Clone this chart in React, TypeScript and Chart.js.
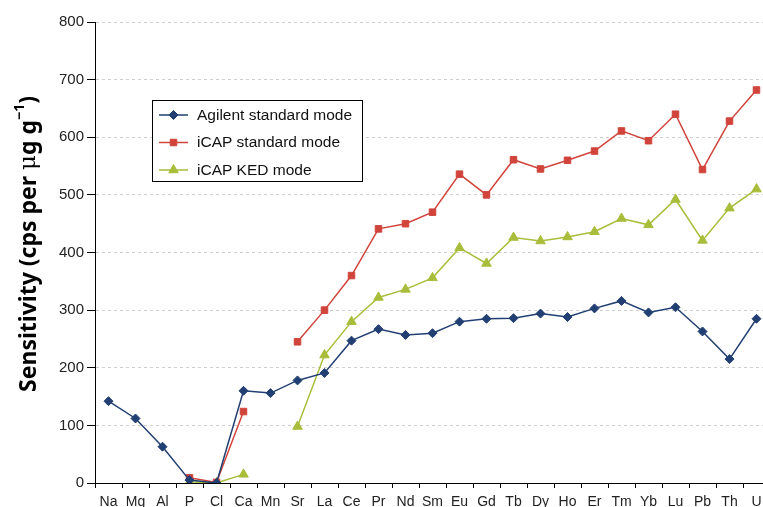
import React, { useEffect, useRef } from "react";
import { Chart, registerables } from "chart.js";
Chart.register(...registerables);

const elements = ["Na", "Mg", "Al", "P", "Cl", "Ca", "Mn", "Sr", "La", "Ce", "Pr", "Nd", "Sm", "Eu", "Gd", "Tb", "Dy", "Ho", "Er", "Tm", "Yb", "Lu", "Pb", "Th", "U"];
const agilentStandard = [142, 112, 63, 5, 0, 160, 156, 178, 191, 247, 267, 257, 260, 280, 285, 286, 294, 288, 303, 316, 296, 305, 263, 215, 285];
const icapStandard = [null, null, null, 9, 1, 124, null, 245, 300, 360, 441, 450, 470, 536, 500, 561, 545, 560, 576, 611, 594, 640, 544, 628, 682];
const icapKed = [null, null, null, 2, 0, 15, null, 98, 222, 280, 322, 336, 356, 408, 381, 426, 420, 427, 436, 459, 448, 492, 421, 477, 510];
const seriesNames = ["Agilent standard mode", "iCAP standard mode", "iCAP KED mode"];
const yMin = 0;
const yMax = 800;
const yStep = 100;

const BLUE = "#213F72";
const RED = "#D0443B";
const GREEN = "#A9BD3B";

function drawMarker(ctx: CanvasRenderingContext2D, style: string, x: number, y: number, r: number, color: string) {
  ctx.save();
  ctx.fillStyle = color;
  ctx.strokeStyle = color;
  ctx.lineWidth = 1;
  ctx.beginPath();
  if (style === "rectRot") {
    ctx.moveTo(x, y - r);
    ctx.lineTo(x + r, y);
    ctx.lineTo(x, y + r);
    ctx.lineTo(x - r, y);
  } else if (style === "rect") {
    const s = r * Math.SQRT1_2;
    ctx.rect(x - s, y - s, 2 * s, 2 * s);
  } else {
    const w = (r * Math.sqrt(3)) / 2;
    ctx.moveTo(x, y - r);
    ctx.lineTo(x + w, y + r / 2);
    ctx.lineTo(x - w, y + r / 2);
  }
  ctx.closePath();
  ctx.fill();
  ctx.stroke();
  ctx.restore();
}

const legendPlugin = {
  id: "boxLegend",
  afterDatasetsDraw(chart: any) {
    const ctx: CanvasRenderingContext2D = chart.ctx;
    ctx.save();
    const x0 = 152.5, y0 = 100.5, w = 210, h = 81;
    ctx.fillStyle = "#fff";
    ctx.fillRect(x0, y0, w, h);
    ctx.strokeStyle = "#000";
    ctx.lineWidth = 1;
    ctx.strokeRect(x0, y0, w, h);
    const rows = [115, 142.5, 170];
    chart.data.datasets.forEach((ds: any, i: number) => {
      const y = rows[i];
      ctx.strokeStyle = ds.borderColor;
      ctx.lineWidth = 1.5;
      ctx.beginPath();
      ctx.moveTo(159, y);
      ctx.lineTo(188, y);
      ctx.stroke();
      drawMarker(ctx, ds.pointStyle, 173.5, y, ds.pointRadius, ds.borderColor);
      ctx.fillStyle = "#111";
      ctx.font = '15.5px "Liberation Sans", Arial, sans-serif';
      ctx.textAlign = "left";
      ctx.textBaseline = "middle";
      ctx.fillText(ds.label, 197, y + 0.5);
    });
    ctx.restore();
  },
};

const titlePlugin = {
  id: "yTitle",
  afterDraw(chart: any) {
    const ctx: CanvasRenderingContext2D = chart.ctx;
    ctx.save();
    ctx.translate(29, 244);
    ctx.rotate(-Math.PI / 2);
    const big = 'bold 23px "Noto Sans", "DejaVu Sans", sans-serif';
    const small = 'bold 14px "Noto Sans", "DejaVu Sans", sans-serif';
    const parts: [string, string, number][] = [
      ["Sensitivity (cps per ", big, 0],
      ["\u03bc", '23px "DejaVu Serif", serif', 0],
      ["g g", big, 0],
      ["\u22121", small, -9],
      [")", big, 0],
    ];
    let total = 0;
    for (const [t, f] of parts) {
      ctx.font = f;
      total += ctx.measureText(t).width;
    }
    let x = -total / 2;
    ctx.fillStyle = "#000";
    ctx.textBaseline = "middle";
    ctx.textAlign = "left";
    for (const [t, f, dy] of parts) {
      ctx.font = f;
      ctx.fillText(t, x, dy);
      x += ctx.measureText(t).width;
    }
    ctx.restore();
  },
};

export default function App() {
  const ref = useRef<HTMLCanvasElement>(null);
  useEffect(() => {
    if (!ref.current) return;
    const xFont = { family: '"Liberation Sans", Arial, sans-serif', size: 14 };
    const yFont = { family: '"Liberation Sans", Arial, sans-serif', size: 15 };
    const yTicks: number[] = [];
    for (let v = yMin; v <= yMax; v += yStep) yTicks.push(v);
    const chart = new Chart(ref.current, {
      type: "line",
      data: {
        labels: elements,
        datasets: [
          {
            label: seriesNames[0],
            data: agilentStandard,
            borderColor: BLUE,
            backgroundColor: BLUE,
            borderWidth: 1.5,
            pointStyle: "rectRot",
            pointRadius: 4.5,
            pointBorderWidth: 1,
            spanGaps: false,
          },
          {
            label: seriesNames[1],
            data: icapStandard,
            borderColor: RED,
            backgroundColor: RED,
            borderWidth: 1.5,
            pointStyle: "rect",
            pointRadius: 4.6,
            pointBorderWidth: 1,
            spanGaps: false,
          },
          {
            label: seriesNames[2],
            data: icapKed,
            borderColor: GREEN,
            backgroundColor: GREEN,
            borderWidth: 1.5,
            pointStyle: "triangle",
            pointRadius: 5.5,
            pointBorderWidth: 1,
            spanGaps: false,
          },
        ] as any,
      },
      options: {
        animation: false,
        responsive: false,
        maintainAspectRatio: false,
        layout: { padding: { top: 22, right: 20, bottom: 0, left: 0 } },
        plugins: { legend: { display: false }, tooltip: { enabled: false } },
        scales: {
          x: {
            type: "category",
            offset: true,
            grid: { display: true, drawOnChartArea: false, drawTicks: true, tickLength: 5, offset: true, color: "#000", tickColor: "#000" },
            border: { display: true, color: "#000", width: 1 },
            ticks: { color: "#222", font: xFont, padding: 6, autoSkip: false, maxRotation: 0 },
            afterFit: (s: any) => { s.height = 24; },
          },
          y: {
            min: yMin,
            max: yMax,
            afterBuildTicks: (s: any) => { s.ticks = yTicks.map((v) => ({ value: v })); },
            grid: { display: true, color: "#cfcfcf", tickColor: "#000", tickLength: 8, drawTicks: true, tickBorderDash: [] },
            border: { display: true, color: "#000", width: 1, dash: [3, 3] },
            ticks: { color: "#222", font: yFont, padding: 3 },
            afterFit: (s: any) => { s.width = 95; },
          },
        },
      },
      plugins: [legendPlugin, titlePlugin],
    });
    return () => chart.destroy();
  }, []);
  return (
    <div style={{ position: "fixed", left: 0, top: 0, width: 763, height: 507, overflow: "hidden", background: "#fff" }}>
      <canvas ref={ref} width={790} height={507} style={{ display: "block" }} />
    </div>
  );
}
